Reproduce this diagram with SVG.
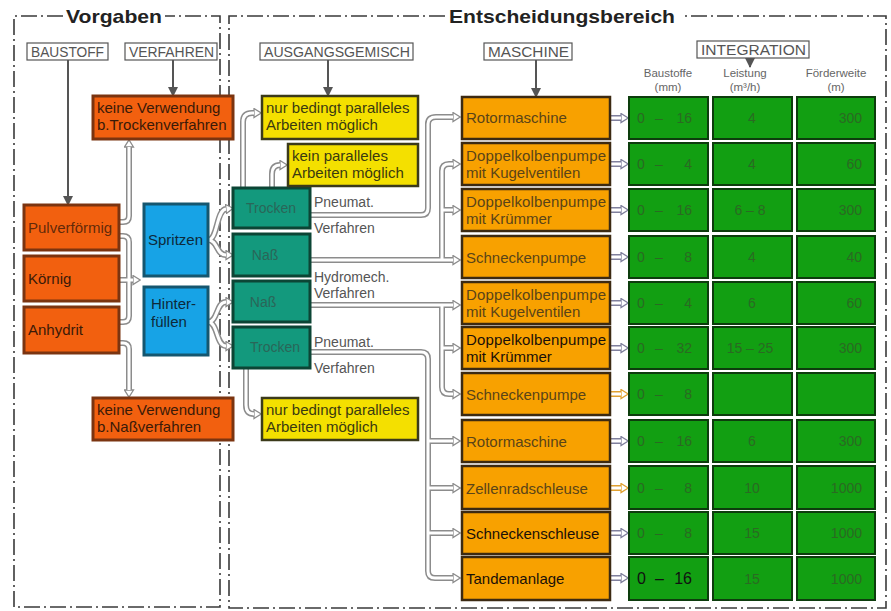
<svg xmlns="http://www.w3.org/2000/svg" xmlns:xlink="http://www.w3.org/1999/xlink" width="891" height="611" viewBox="0 0 891 611">
<style>
text{font-family:"Liberation Sans",Arial,sans-serif;}
.frame{fill:none;stroke:#3a3a3a;stroke-width:1.6;stroke-dasharray:16 4 2 4;}
.title{font-size:19px;font-weight:bold;fill:#222;}
.hdr rect{fill:#fff;stroke:#555;stroke-width:1.2;}
.hdr text{font-size:14px;fill:#555;}
.col{font-size:11.5px;fill:#666;text-anchor:middle;}
.ro rect{fill:#f2600f;stroke:#7b3410;stroke-width:3;}
.ro text{font-size:15px;fill:#3a1a08;}
.bl rect{fill:#17a3e6;stroke:#15566f;stroke-width:3;}
.bl text{font-size:15px;fill:#0d2a3a;}
.te rect{fill:#13997d;stroke:#0c4535;stroke-width:3;}
.te text{font-size:14px;fill:#2a6658;text-anchor:middle;}
.ye rect{fill:#f4e000;stroke:#3b3a1a;stroke-width:2.5;}
.ye text{font-size:15px;fill:#3a3a10;}
.ma rect{fill:#f8a100;stroke:#3c2a12;stroke-width:2.5;}
.ma text{font-size:15px;fill:#5a4418;}
.ma text.dk{fill:#1a1008;}
.gr rect{fill:#129f12;stroke:#0d3d0d;stroke-width:2;}
.gr text{font-size:14px;fill:#2a6a22;}
.lbl{font-size:14px;fill:#555;}
.ar{stroke:#555;stroke-width:2;fill:none;marker-end:url(#ah);}
.po{fill:none;stroke:#8c8c8c;stroke-width:6;marker-end:url(#oh);}
.pn{fill:none;stroke:#8c8c8c;stroke-width:6;}
.pi{fill:none;stroke:#fff;stroke-width:3;marker-end:none;}
.io{fill:none;stroke:#7f7f9c;stroke-width:6;marker-end:url(#ih);}
.iy{fill:none;stroke:#e0a030;stroke-width:6;marker-end:url(#iy);}
</style>
<defs>
<marker id="ah" viewBox="0 0 10 10" refX="9" refY="5" markerWidth="10" markerHeight="10" markerUnits="userSpaceOnUse" orient="auto"><path d="M0,0 L10,5 L0,10 Z" fill="#555"/></marker>
<marker id="oh" viewBox="0 0 10 12" refX="1" refY="6" markerWidth="9" markerHeight="11" markerUnits="userSpaceOnUse" orient="auto"><path d="M1,1 L9,6 L1,11 Z" fill="#fff" stroke="#8c8c8c" stroke-width="1.4"/></marker>
<marker id="ih" viewBox="0 0 10 12" refX="1" refY="6" markerWidth="9" markerHeight="11" markerUnits="userSpaceOnUse" orient="auto"><path d="M1,1 L9,6 L1,11 Z" fill="#fff" stroke="#7f7f9c" stroke-width="1.4"/></marker>
<marker id="iy" viewBox="0 0 10 12" refX="1" refY="6" markerWidth="9" markerHeight="11" markerUnits="userSpaceOnUse" orient="auto"><path d="M1,1 L9,6 L1,11 Z" fill="#fff" stroke="#e0a030" stroke-width="1.4"/></marker>
<path id="c1" d="M119,222 H123 Q129,222 129,216 V147"/>
<path id="c2" d="M119,343 H123 Q129,343 129,349 V390"/>
<path id="c3" d="M119,236 H123 Q129,236 129,242 V316 Q129,322 123,322 H119"/>
<path id="c4" d="M119,280 H133"/>
<path id="s1" d="M208,240 C218,240 216,210 226,209"/>
<path id="s2" d="M208,240 C218,240 216,255 226,255"/>
<path id="h1" d="M208,322 C218,322 216,302 226,302"/>
<path id="h2" d="M208,322 C218,322 216,346 226,346"/>
<path id="y1" d="M243,188 V122 Q243,113 252,113 H254"/>
<path id="y2" d="M272,188 V174 Q272,165 280,165"/>
<path id="y3" d="M246,368 V405 Q246,414 254,414"/>
<path id="m1" d="M310,215 H421 Q428,215 428,208 V124 Q428,117 436,117 H453"/>
<path id="m2" d="M310,260 H453"/>
<path id="m2b" d="M442,260 V171 Q442,164 449,164 H453"/>
<path id="m2c" d="M442,210 H453"/>
<path id="m3" d="M310,305 H453"/>
<path id="m3b" d="M442,305 V387 Q442,394 449,394 H453"/>
<path id="m3c" d="M442,348 H453"/>
<path id="m4" d="M310,352 H421 Q428,352 428,359 V571 Q428,578 435,578 H453"/>
<path id="m4a" d="M428,441 H453"/>
<path id="m4b" d="M428,488 H453"/>
<path id="m4c" d="M428,533 H453"/>
</defs>

<!-- frames -->
<g id="frames">
<path class="frame" d="M63,16 H14 V607 H220 V16 H165"/>
<path class="frame" d="M445,16 H229 V608 H886 V16 H681"/>
<text class="title" x="66" y="23" textLength="96" lengthAdjust="spacingAndGlyphs">Vorgaben</text>
<text class="title" x="449" y="23" textLength="226" lengthAdjust="spacingAndGlyphs">Entscheidungsbereich</text>
</g>

<!-- header labels -->
<g id="hdr-baustoff" class="hdr"><rect x="27" y="43" width="81" height="17"/><text x="31" y="57" textLength="73" lengthAdjust="spacingAndGlyphs">BAUSTOFF</text></g>
<g id="hdr-verfahren" class="hdr"><rect x="125" y="43" width="92" height="17"/><text x="129" y="57" textLength="85" lengthAdjust="spacingAndGlyphs">VERFAHREN</text></g>
<g id="hdr-ausgangsgemisch" class="hdr"><rect x="260" y="43" width="153" height="17"/><text x="264" y="57" textLength="146" lengthAdjust="spacingAndGlyphs">AUSGANGSGEMISCH</text></g>
<g id="hdr-maschine" class="hdr"><rect x="484" y="43" width="88" height="17"/><text x="488" y="57" textLength="81" lengthAdjust="spacingAndGlyphs">MASCHINE</text></g>
<g id="hdr-integration" class="hdr"><rect x="697" y="41" width="112" height="17"/><text x="701" y="55" textLength="105" lengthAdjust="spacingAndGlyphs">INTEGRATION</text></g>
<g id="colheads">
<text class="col" x="668" y="77">Baustoffe</text><text class="col" x="668" y="91">(mm)</text>
<text class="col" x="745" y="77">Leistung</text><text class="col" x="745" y="91">(m³/h)</text>
<text class="col" x="836" y="77">Förderweite</text><text class="col" x="836" y="91">(m)</text>
</g>

<!-- connectors -->
<g id="connectors">
<line class="ar" x1="68" y1="60" x2="68" y2="205"/>
<line class="ar" x1="173" y1="60" x2="173" y2="96"/>
<line class="ar" x1="328" y1="60" x2="328" y2="96"/>
<line class="ar" x1="536" y1="60" x2="536" y2="97"/>
<line class="ar" x1="750" y1="58" x2="750" y2="67"/>
<g>
<use xlink:href="#c3" class="pn"/>
<use xlink:href="#c1" class="po"/><use xlink:href="#c2" class="po"/><use xlink:href="#c4" class="po"/>
<use xlink:href="#s1" class="po"/><use xlink:href="#s2" class="po"/><use xlink:href="#h1" class="po"/><use xlink:href="#h2" class="po"/>
<use xlink:href="#y1" class="po"/><use xlink:href="#y2" class="po"/><use xlink:href="#y3" class="po"/>
<use xlink:href="#m1" class="po"/><use xlink:href="#m2" class="po"/><use xlink:href="#m2b" class="po"/><use xlink:href="#m2c" class="po"/>
<use xlink:href="#m3" class="po"/><use xlink:href="#m3b" class="po"/><use xlink:href="#m3c" class="po"/>
<use xlink:href="#m4" class="po"/><use xlink:href="#m4a" class="po"/><use xlink:href="#m4b" class="po"/><use xlink:href="#m4c" class="po"/>
</g>
<g>
<use xlink:href="#c3" class="pi"/>
<use xlink:href="#c1" class="pi"/><use xlink:href="#c2" class="pi"/><use xlink:href="#c4" class="pi"/>
<use xlink:href="#s1" class="pi"/><use xlink:href="#s2" class="pi"/><use xlink:href="#h1" class="pi"/><use xlink:href="#h2" class="pi"/>
<use xlink:href="#y1" class="pi"/><use xlink:href="#y2" class="pi"/><use xlink:href="#y3" class="pi"/>
<use xlink:href="#m1" class="pi"/><use xlink:href="#m2" class="pi"/><use xlink:href="#m2b" class="pi"/><use xlink:href="#m2c" class="pi"/>
<use xlink:href="#m3" class="pi"/><use xlink:href="#m3b" class="pi"/><use xlink:href="#m3c" class="pi"/>
<use xlink:href="#m4" class="pi"/><use xlink:href="#m4a" class="pi"/><use xlink:href="#m4b" class="pi"/><use xlink:href="#m4c" class="pi"/>
</g>
<g>
<path class="io" d="M611,118 H621"/><path class="pi" d="M611,118 H621"/>
<path class="io" d="M611,164 H621"/><path class="pi" d="M611,164 H621"/>
<path class="io" d="M611,210 H621"/><path class="pi" d="M611,210 H621"/>
<path class="io" d="M611,257 H621"/><path class="pi" d="M611,257 H621"/>
<path class="io" d="M611,303 H621"/><path class="pi" d="M611,303 H621"/>
<path class="io" d="M611,348 H621"/><path class="pi" d="M611,348 H621"/>
<path class="iy" d="M611,394 H621"/><path class="pi" d="M611,394 H621"/>
<path class="io" d="M611,441 H621"/><path class="pi" d="M611,441 H621"/>
<path class="iy" d="M611,488 H621"/><path class="pi" d="M611,488 H621"/>
<path class="io" d="M611,533 H621"/><path class="pi" d="M611,533 H621"/>
<path class="io" d="M611,578 H621"/><path class="pi" d="M611,578 H621"/>
</g>
</g>

<!-- Vorgaben nodes -->
<g id="n-pulver" class="ro"><rect x="24" y="205" width="95" height="45"/><text x="28" y="233" fill-opacity="0.8">Pulverförmig</text></g>
<g id="n-koernig" class="ro"><rect x="24" y="256" width="95" height="45"/><text x="28" y="284">Körnig</text></g>
<g id="n-anhydrit" class="ro"><rect x="24" y="307" width="95" height="46"/><text x="28" y="335">Anhydrit</text></g>
<g id="n-keine-trocken" class="ro"><rect x="93" y="96" width="140" height="43"/><text x="97" y="113">keine Verwendung</text><text x="97" y="130">b.Trockenverfahren</text></g>
<g id="n-keine-nass" class="ro"><rect x="93" y="398" width="140" height="42"/><text x="97" y="415">keine Verwendung</text><text x="97" y="432">b.Naßverfahren</text></g>
<g id="n-spritzen" class="bl"><rect x="144" y="204" width="64" height="72"/><text x="148" y="245" fill="#1d6a88">Spritzen</text></g>
<g id="n-hinterfuellen" class="bl"><rect x="144" y="287" width="64" height="68"/><text x="151" y="309">Hinter-</text><text x="151" y="327">füllen</text></g>

<!-- Ausgangsgemisch nodes -->
<g id="n-trocken1" class="te"><rect x="233" y="188" width="77" height="40"/><text x="271" y="213">Trocken</text></g>
<g id="n-nass1" class="te"><rect x="233" y="234" width="77" height="42"/><text x="265" y="260">Naß</text></g>
<g id="n-nass2" class="te"><rect x="233" y="281" width="77" height="41"/><text x="263" y="307">Naß</text></g>
<g id="n-trocken2" class="te"><rect x="233" y="327" width="77" height="41"/><text x="275" y="352">Trocken</text></g>
<g id="n-ye1" class="ye"><rect x="262" y="96" width="156" height="43"/><text x="266" y="113">nur bedingt paralleles</text><text x="266" y="130">Arbeiten möglich</text></g>
<g id="n-ye2" class="ye"><rect x="288" y="144" width="130" height="42"/><text x="292" y="161">kein paralleles</text><text x="292" y="178">Arbeiten möglich</text></g>
<g id="n-ye3" class="ye"><rect x="262" y="398" width="156" height="42"/><text x="266" y="415" fill="#1a1a05">nur bedingt paralleles</text><text x="266" y="432" fill="#1a1a05">Arbeiten möglich</text></g>
<g id="verfahren-labels">
<text class="lbl" x="314" y="207">Pneumat.</text><text class="lbl" x="314" y="233">Verfahren</text>
<text class="lbl" x="314" y="282" fill="#333">Hydromech.</text><text class="lbl" x="314" y="298">Verfahren</text>
<text class="lbl" x="314" y="347">Pneumat.</text><text class="lbl" x="314" y="373" fill="#333">Verfahren</text>
</g>

<!-- Maschine nodes -->
<g id="n-m1" class="ma"><rect x="462" y="97" width="148" height="42"/><text x="466" y="123">Rotormaschine</text></g>
<g id="n-m2" class="ma"><rect x="462" y="143" width="148" height="42"/><text x="466" y="161" textLength="140">Doppelkolbenpumpe</text><text x="466" y="178">mit Kugelventilen</text></g>
<g id="n-m3" class="ma"><rect x="462" y="189" width="148" height="42"/><text x="466" y="207" textLength="140">Doppelkolbenpumpe</text><text x="466" y="224">mit Krümmer</text></g>
<g id="n-m4" class="ma"><rect x="462" y="236" width="148" height="42"/><text x="466" y="263">Schneckenpumpe</text></g>
<g id="n-m5" class="ma"><rect x="462" y="282" width="148" height="42"/><text x="466" y="300" textLength="140">Doppelkolbenpumpe</text><text x="466" y="317">mit Kugelventilen</text></g>
<g id="n-m6" class="ma"><rect x="462" y="327" width="148" height="42"/><text class="dk" x="466" y="345" textLength="140">Doppelkolbenpumpe</text><text class="dk" x="466" y="362">mit  Krümmer</text></g>
<g id="n-m7" class="ma"><rect x="462" y="373" width="148" height="42"/><text x="466" y="400">Schneckenpumpe</text></g>
<g id="n-m8" class="ma"><rect x="462" y="420" width="148" height="42"/><text x="466" y="447">Rotormaschine</text></g>
<g id="n-m9" class="ma"><rect x="462" y="466" width="148" height="43"/><text x="466" y="494">Zellenradschleuse</text></g>
<g id="n-m10" class="ma"><rect x="462" y="512" width="148" height="42"/><text class="dk" x="466" y="539">Schneckenschleuse</text></g>
<g id="n-m11" class="ma"><rect x="462" y="557" width="148" height="43"/><text class="dk" x="466" y="584">Tandemanlage</text></g>

<!-- Integration table -->
<g id="integration" class="gr">
<g id="r1"><rect x="629" y="97" width="79" height="42"/><rect x="713" y="97" width="79" height="42"/><rect x="797" y="97" width="78" height="42"/>
<text y="123"><tspan x="637">0</tspan><tspan x="655">–</tspan><tspan x="692" text-anchor="end">16</tspan><tspan x="752" text-anchor="middle">4</tspan><tspan x="862" text-anchor="end">300</tspan></text></g>
<g id="r2"><rect x="629" y="143" width="79" height="42"/><rect x="713" y="143" width="79" height="42"/><rect x="797" y="143" width="78" height="42"/>
<text y="169"><tspan x="637">0</tspan><tspan x="655">–</tspan><tspan x="692" text-anchor="end">4</tspan><tspan x="752" text-anchor="middle">4</tspan><tspan x="862" text-anchor="end">60</tspan></text></g>
<g id="r3"><rect x="629" y="189" width="79" height="42"/><rect x="713" y="189" width="79" height="42"/><rect x="797" y="189" width="78" height="42"/>
<text y="215"><tspan x="637">0</tspan><tspan x="655">–</tspan><tspan x="692" text-anchor="end">16</tspan><tspan x="750" text-anchor="middle">6 – 8</tspan><tspan x="862" text-anchor="end">300</tspan></text></g>
<g id="r4"><rect x="629" y="236" width="79" height="42"/><rect x="713" y="236" width="79" height="42"/><rect x="797" y="236" width="78" height="42"/>
<text y="262"><tspan x="637">0</tspan><tspan x="655">–</tspan><tspan x="692" text-anchor="end">8</tspan><tspan x="752" text-anchor="middle">4</tspan><tspan x="862" text-anchor="end">40</tspan></text></g>
<g id="r5"><rect x="629" y="282" width="79" height="42"/><rect x="713" y="282" width="79" height="42"/><rect x="797" y="282" width="78" height="42"/>
<text y="308"><tspan x="637">0</tspan><tspan x="655">–</tspan><tspan x="692" text-anchor="end">4</tspan><tspan x="752" text-anchor="middle">6</tspan><tspan x="862" text-anchor="end">60</tspan></text></g>
<g id="r6"><rect x="629" y="327" width="79" height="42"/><rect x="713" y="327" width="79" height="42"/><rect x="797" y="327" width="78" height="42"/>
<text y="353"><tspan x="637">0</tspan><tspan x="655">–</tspan><tspan x="692" text-anchor="end">32</tspan><tspan x="750" text-anchor="middle">15 – 25</tspan><tspan x="862" text-anchor="end">300</tspan></text></g>
<g id="r7"><rect x="629" y="373" width="79" height="42"/><rect x="713" y="373" width="79" height="42" stroke="#129f12"/><rect x="797" y="373" width="78" height="42" stroke="#129f12"/>
<text y="399"><tspan x="637">0</tspan><tspan x="655">–</tspan><tspan x="692" text-anchor="end">8</tspan></text></g>
<g id="r8"><rect x="629" y="420" width="79" height="42"/><rect x="713" y="420" width="79" height="42"/><rect x="797" y="420" width="78" height="42"/>
<text y="446"><tspan x="637">0</tspan><tspan x="655">–</tspan><tspan x="692" text-anchor="end">16</tspan><tspan x="752" text-anchor="middle">6</tspan><tspan x="862" text-anchor="end">300</tspan></text></g>
<g id="r9"><rect x="629" y="466" width="79" height="43"/><rect x="713" y="466" width="79" height="43"/><rect x="797" y="466" width="78" height="43"/>
<text y="493"><tspan x="637">0</tspan><tspan x="655">–</tspan><tspan x="692" text-anchor="end">8</tspan><tspan x="752" text-anchor="middle">10</tspan><tspan x="862" text-anchor="end">1000</tspan></text></g>
<g id="r10"><rect x="629" y="512" width="79" height="42"/><rect x="713" y="512" width="79" height="42"/><rect x="797" y="512" width="78" height="42"/>
<text y="538"><tspan x="637">0</tspan><tspan x="655">–</tspan><tspan x="692" text-anchor="end">8</tspan><tspan x="752" text-anchor="middle">15</tspan><tspan x="862" text-anchor="end">1000</tspan></text></g>
<g id="r11"><rect x="629" y="557" width="79" height="43"/><rect x="713" y="557" width="79" height="43"/><rect x="797" y="557" width="78" height="43"/>
<text y="584"><tspan x="637" fill="#111" font-size="16">0</tspan><tspan x="655" fill="#111" font-size="16">–</tspan><tspan x="692" text-anchor="end" fill="#111" font-size="16">16</tspan><tspan x="752" text-anchor="middle">15</tspan><tspan x="862" text-anchor="end">1000</tspan></text></g>
</g>
</svg>
